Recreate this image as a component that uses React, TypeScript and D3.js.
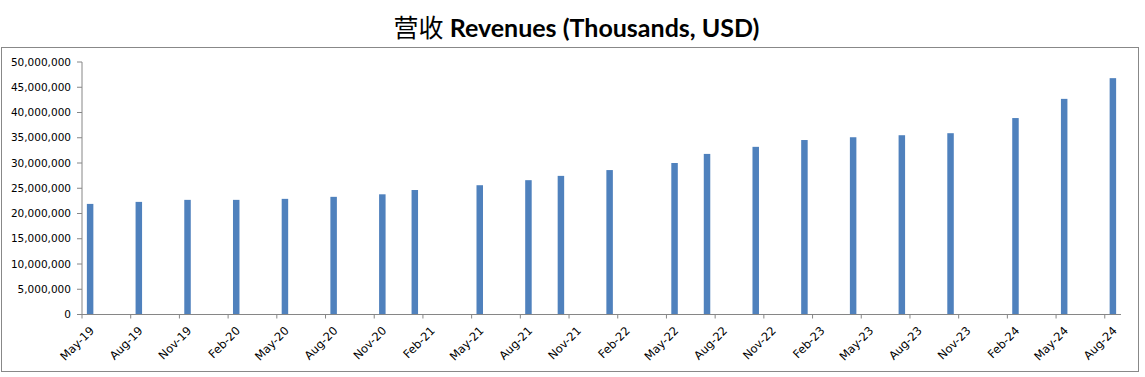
import React from "react";
import * as d3 from "d3";

const periods: string[] = [
  "2019-05", "2019-08", "2019-11", "2020-02", "2020-05", "2020-08", "2020-11",
  "2021-01", "2021-05", "2021-08", "2021-10", "2022-01", "2022-05", "2022-07",
  "2022-10", "2023-01", "2023-04", "2023-07", "2023-10", "2024-02", "2024-05", "2024-08",
];
const revenues: number[] = [
  21900000, 22300000, 22700000, 22700000, 22900000, 23300000, 23800000,
  24650000, 25600000, 26600000, 27450000, 28600000, 30000000, 31800000,
  33200000, 34550000, 35100000, 35500000, 35900000, 38900000, 42700000, 46800000,
];
const yTicks: number[] = [0, 5e6, 10e6, 15e6, 20e6, 25e6, 30e6, 35e6, 40e6, 45e6, 50e6];
const axisStart = "2019-05";
const axisEnd = "2024-08";
const title = "营收 Revenues (Thousands, USD)";

const parse = d3.timeParse("%Y-%m");
const fmtMonth = d3.timeFormat("%b-%y");
const monthIdx = (s: string) => {
  const d = parse(s)!;
  const b = parse(axisStart)!;
  return (d.getFullYear() - b.getFullYear()) * 12 + d.getMonth() - b.getMonth();
};

export default function App() {
  const W = 1145, H = 377;
  const left = 82, right = 1121, top = 62, bottom = 314.5;
  const nMonths = monthIdx(axisEnd) + 1;
  const x = d3.scaleLinear().domain([0, nMonths]).range([left, right]);
  const y = d3.scaleLinear().domain([0, 50e6]).range([bottom, top]);
  const slot = x(1) - x(0);
  const bw = slot * 0.4;
  const axisColor = "#868686";
  const tickIdx = d3.range(0, nMonths, 3);
  const fmtNum = d3.format(",");
  const base = parse(axisStart)!;

  return (
    <svg width={W} height={H} style={{ position: "absolute", left: 0, top: 0, background: "#fff" }}>
      <rect x={1.5} y={47.5} width={1137} height={324} fill="#fff" stroke="#888" strokeWidth={1} />
      <text x={576.5} y={37} textAnchor="middle" fontSize={25} fill="#000">
        <tspan fontFamily="'Noto Sans CJK SC'" fontWeight="normal">营收</tspan>
        <tspan fontFamily="Lato, 'Open Sans', sans-serif" fontWeight="bold">{title.slice(2)}</tspan>
      </text>
      {/* y axis */}
      <line x1={left} x2={left} y1={top} y2={bottom} stroke={axisColor} />
      {yTicks.map((t) => (
        <g key={t}>
          <line x1={left - 5} x2={left} y1={y(t)} y2={y(t)} stroke={axisColor} />
          <text x={71} y={y(t)} dy="0.35em" textAnchor="end" fontSize={10.5} fontFamily="'DejaVu Sans'" fill="#000">
            {fmtNum(t)}
          </text>
        </g>
      ))}
      {/* bars */}
      {periods.map((p, i) => {
        const m = monthIdx(p);
        const cx = x(m + 0.5);
        return (
          <rect key={p} x={cx - bw / 2} y={y(revenues[i])} width={bw} height={bottom - y(revenues[i])} fill="#4F81BD" />
        );
      })}
      {/* x axis */}
      <line x1={left} x2={right} y1={bottom} y2={bottom} stroke={axisColor} />
      {tickIdx.map((m) => {
        const d = d3.timeMonth.offset(base, m);
        const tx = x(m);
        return (
          <g key={m}>
            <line x1={tx} x2={tx} y1={bottom} y2={bottom + 4} stroke={axisColor} />
            <text
              transform={`translate(${tx + 10},${bottom + 14}) rotate(-45)`}
              textAnchor="end"
              dy="0.35em"
              fontSize={11.5}
              fontFamily="'DejaVu Sans'"
              fill="#000"
            >
              {fmtMonth(d)}
            </text>
          </g>
        );
      })}
    </svg>
  );
}
